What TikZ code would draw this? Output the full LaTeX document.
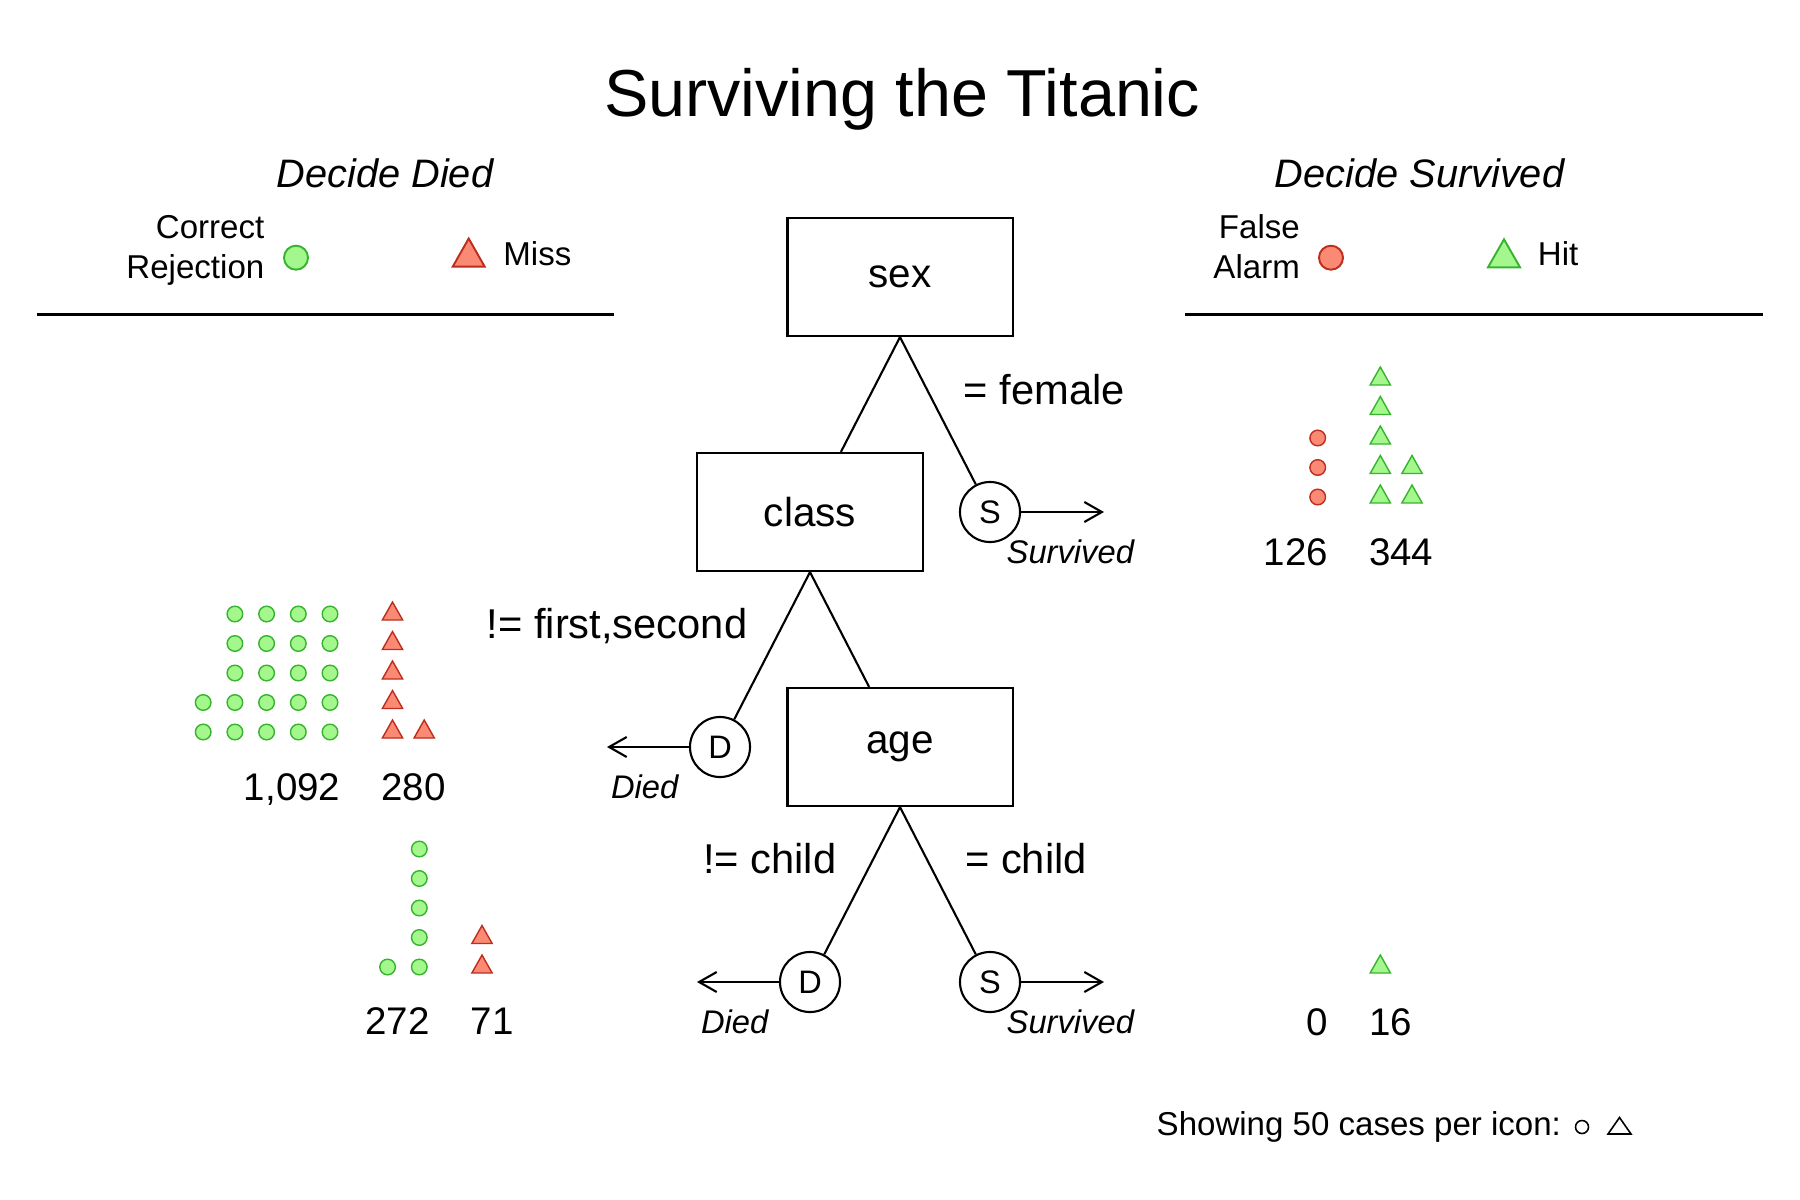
\documentclass[tikz,border=0pt]{standalone}
\usepackage{fontspec}
\setmainfont{Liberation Sans}
\usetikzlibrary{arrows.meta}
\definecolor{hitfill}{RGB}{163,247,140}
\definecolor{hitline}{RGB}{55,180,45}
\definecolor{missfill}{RGB}{250,138,115}
\definecolor{missline}{RGB}{190,45,30}
\def\crcl[#1](#2,#3){\draw[#1] (#2,#3) circle (0.078cm);}
\def\trngl[#1](#2,#3){\draw[#1] (#2,#3) ++(-10.15,6) -- ++(10.15,-18) -- ++(10.15,18) -- cycle;}

\begin{document}
\begin{tikzpicture}[x=0.01cm, y=-0.01cm,
		box/.style={draw, line width=0.6pt, minimum width=2.25cm, minimum height=1.18cm, inner sep=0pt, font=\fontsize{11.5}{13}\selectfont},
		leaf/.style={draw, circle, line width=0.6pt, minimum size=0.6cm, inner sep=0pt, font=\fontsize{9.25}{11}\selectfont},
		lbl/.style={inner sep=0pt, font=\fontsize{11.85}{14}\selectfont},
		leaflbl/.style={inner sep=0pt, font=\fontsize{9.3}{11}\selectfont\itshape},
		num/.style={inner sep=0pt, font=\fontsize{10.95}{13}\selectfont},
		legtxt/.style={inner sep=0pt, font=\fontsize{9.4}{11.1}\selectfont},
		hit/.style={line width=0.4pt, draw=hitline, fill=hitfill},
		miss/.style={line width=0.4pt, draw=missline, fill=missfill},
		exit/.style={line width=0.6pt, -{Straight Barb[length=5pt,width=5.7pt]}}]
			%%%%% START %%%%%
			\useasboundingbox (0,0) rectangle (1800,1200);
			
			\node[inner sep=0pt, anchor=base, font=\fontsize{18.9}{22}\selectfont] (title) at (902,116) {Surviving the Titanic};
			
			\node[inner sep=0pt, anchor=base, font=\fontsize{11.3}{13}\selectfont\itshape] (decdied) at (385,187) {Decide Died};
			\node[inner sep=0pt, anchor=base, font=\fontsize{11.3}{13}\selectfont\itshape] (decsurv) at (1419.5,187) {Decide Survived};
			
			\node[legtxt, align=right, anchor=base east] (crlbl) at (265,278) {Correct\\Rejection};
			\draw[hit, line width=0.55pt] (296,257.7) circle (0.12cm);
			\draw[miss, line width=0.55pt] (452.7,266.7) -- (468.7,238.5) -- (484.7,266.7) -- cycle;
			\node[legtxt, anchor=base west] (misslbl) at (502.7,265.7) {Miss};
			\draw[line width=0.7pt] (36.7,314.3) -- (614.2,314.3);
			
			\node[legtxt, align=right, anchor=base east] (falbl) at (1300.5,278) {False\\Alarm};
			\draw[miss, line width=0.55pt] (1331,257.7) circle (0.12cm);
			\draw[hit, line width=0.55pt] (1488,267.3) -- (1504,239.3) -- (1520,267.3) -- cycle;
			\node[legtxt, anchor=base west] (hitlbl) at (1537.2,265.7) {Hit};
			\draw[line width=0.7pt] (1185.3,314.3) -- (1762.8,314.3);
			
			\node[box] (sex) at (900,277) {sex};
			\node[box] (class) at (810,512) {class};
			\node[leaf] (sexS) at (990,512) {S};
			\node[box] (age) at (900,747) {age};
			\node[leaf] (classD) at (720,747) {D};
			\node[leaf] (ageD) at (810,982) {D};
			\node[leaf] (ageS) at (990,982) {S};
			
			\draw[line width=0.6pt] (sex.south) -- (class);
			\draw[line width=0.6pt] (sex.south) -- (sexS);
			\draw[line width=0.6pt] (class.south) -- (classD);
			\draw[line width=0.6pt] (class.south) -- (age);
			\draw[line width=0.6pt] (age.south) -- (ageD);
			\draw[line width=0.6pt] (age.south) -- (ageS);
			
			\node[lbl, anchor=base west] (female) at (963,404) {= female};
			\node[lbl, anchor=base east] (notfirst) at (748,638.5) {!= first,second};
			\node[lbl, anchor=base east] (notchild) at (837,873.5) {!= child};
			\node[lbl, anchor=base west] (child) at (964.5,873.5) {= child};
			
			\coordinate (sexSout) at (1104,512);
			\coordinate (classDout) at (607,747);
			\coordinate (ageDout) at (697,982);
			\coordinate (ageSout) at (1104,982);
			\draw[exit] (sexS) -- (sexSout);
			\draw[exit] (classD) -- (classDout);
			\draw[exit] (ageD) -- (ageDout);
			\draw[exit] (ageS) -- (ageSout);
			
			\node[leaflbl, anchor=base west] (survA) at (1006,563.5) {Survived};
			\node[leaflbl, anchor=base east] (diedA) at (679,798) {Died};
			\node[leaflbl, anchor=base east] (diedB) at (769,1033) {Died};
			\node[leaflbl, anchor=base west] (survB) at (1006,1033) {Survived};
			
			\crcl[hit](330,732) \crcl[hit](330,702.5) \crcl[hit](330,673) \crcl[hit](330,643.5) \crcl[hit](330,614)
			\crcl[hit](298.3,732) \crcl[hit](298.3,702.5) \crcl[hit](298.3,673) \crcl[hit](298.3,643.5) \crcl[hit](298.3,614)
			\crcl[hit](266.6,732) \crcl[hit](266.6,702.5) \crcl[hit](266.6,673) \crcl[hit](266.6,643.5) \crcl[hit](266.6,614)
			\crcl[hit](234.9,732) \crcl[hit](234.9,702.5) \crcl[hit](234.9,673) \crcl[hit](234.9,643.5) \crcl[hit](234.9,614)
			\crcl[hit](203.2,732) \crcl[hit](203.2,702.5)
			\trngl[miss](392.5,732) \trngl[miss](392.5,702.5) \trngl[miss](392.5,673) \trngl[miss](392.5,643.5) \trngl[miss](392.5,614)
			\trngl[miss](424.2,732)
			\node[num, anchor=base east] (nA) at (341,800.3) {1,092};
			\node[num, anchor=base west] (nB) at (380.5,800.3) {280};
			
			\crcl[hit](419.3,967) \crcl[hit](419.3,937.5) \crcl[hit](419.3,908) \crcl[hit](419.3,878.5) \crcl[hit](419.3,849)
			\crcl[hit](387.6,967)
			\trngl[miss](482,967) \trngl[miss](482,937.5)
			\node[num, anchor=base east] (nC) at (430.3,1034.5) {272};
			\node[num, anchor=base west] (nD) at (470,1034.5) {71};
			
			\crcl[miss](1317.7,497) \crcl[miss](1317.7,467.5) \crcl[miss](1317.7,438)
			\trngl[hit](1380.3,497) \trngl[hit](1380.3,467.5) \trngl[hit](1380.3,438) \trngl[hit](1380.3,408.5) \trngl[hit](1380.3,379)
			\trngl[hit](1412,497) \trngl[hit](1412,467.5)
			\node[num, anchor=base east] (nE) at (1328.7,565) {126};
			\node[num, anchor=base west] (nF) at (1368.3,565) {344};
			
			\trngl[hit](1380.3,967)
			\node[num, anchor=base east] (nG) at (1328.7,1035) {0};
			\node[num, anchor=base west] (nH) at (1368.3,1035) {16};
			
			\node[legtxt, anchor=base west] (foot) at (1156,1135) {Showing 50 cases per icon:};
			\draw[line width=0.45pt] (1582,1127) circle (0.065cm);
			\draw[line width=0.45pt] (1608,1134) -- (1619.5,1117.5) -- (1631,1134) -- cycle;
			
			%%%%% END %%%%%
		\end{tikzpicture}
\end{document}
